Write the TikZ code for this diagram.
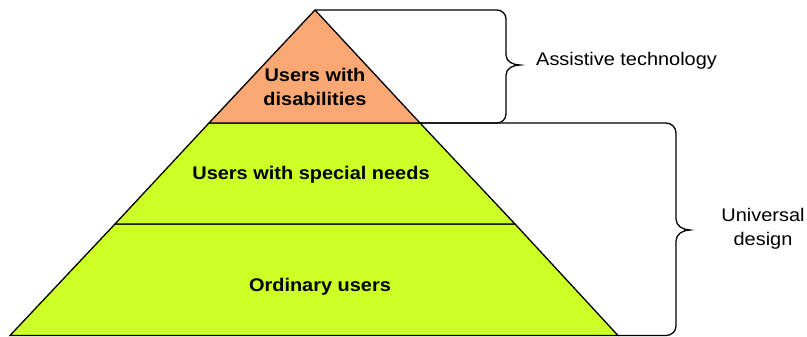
\documentclass[tikz,border=0pt]{standalone}
\usepackage{fontspec}
\setmainfont[FakeStretch=1.09]{Liberation Sans}
\usetikzlibrary{calc,positioning}
\definecolor{topfill}{RGB}{250,168,115}
\definecolor{limefill}{RGB}{204,255,38}
\tikzset{
  layer/.style={draw=black, line width=1.3pt, line join=miter},
  brace/.style={draw=black, line width=1.3pt},
  llabel/.style={font=\fontsize{18.3}{23.5}\selectfont\bfseries, align=center, inner sep=0pt},
  blabel/.style={font=\fontsize{18.3}{23.5}\selectfont, align=center, inner sep=0pt},
}
\begin{document}
\begin{tikzpicture}[x=1pt,y=-1pt]
  \useasboundingbox (0,0) rectangle (807,337);
  % corners of the pyramid
  \coordinate (apex) at (315,10);
  \coordinate (topL) at (209,123);
  \coordinate (topR) at (420,123);
  \coordinate (midL) at (115,224);
  \coordinate (midR) at (515,224);
  \coordinate (baseL) at (10,335.5);
  \coordinate (baseR) at (618,335.5);
  % layers
  \draw[layer, fill=limefill] (midL) -- (midR) -- (baseR) -- (baseL) -- cycle;
  \draw[layer, fill=limefill] (topL) -- (topR) -- (midR) -- (midL) -- cycle;
  \draw[layer, fill=topfill] (apex) -- (topR) -- (topL) -- cycle;
  \node[llabel] (disab) at (315,87) {Users with\\disabilities};
  \node[llabel] (special) at (311,175) {Users with special needs};
  \node[llabel] (ordinary) at (320,287) {Ordinary users};
  % braces
  \draw[brace] (apex) -- (497,10) to[out=0,in=90] (506,19) -- (506,55)
    to[out=-90,in=180] (520,65) to[out=180,in=90] (506,75) -- (506,114)
    to[out=-90,in=0] (497,123) -- (topR);
  \draw[brace] (topR) -- (666,123) to[out=0,in=90] (676,133) -- (676,219)
    to[out=-90,in=180] (690,230) to[out=180,in=90] (676,241) -- (676,326)
    to[out=-90,in=0] (666,335.5) -- (baseR);
  \node[blabel, anchor=west] (assist) at (536,61) {Assistive technology};
  \node[blabel] (univ) at (763,229) {Universal\\design};
\end{tikzpicture}
\end{document}
